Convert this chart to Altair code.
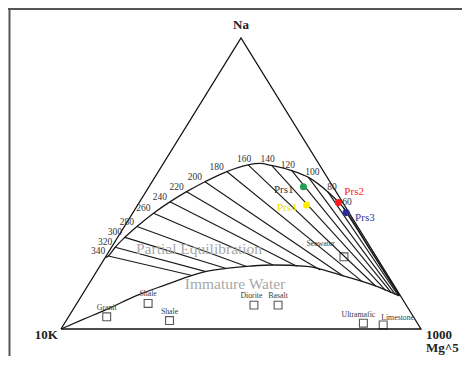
import altair as alt
import pandas as pd

# ---------------- data (ternary coordinates: Na %, Mg %; K = 100 - Na - Mg) ----------------
# triangle outline K -> Na -> Mg -> K
tri_na = [0, 100, 0, 0]
tri_mg = [0, 0, 100, 0]

# full-equilibrium curve
fe_na = [24.5, 25.1, 28.1, 31.5, 35.2, 39.8, 43.7, 47.2, 50.6, 54.1, 56.4, 56.9, 56.2, 54.4, 52.1, 47.1, 41.9, 27.1, 11.4]
fe_mg = [0.0, 0.6, 1.0, 2.0, 3.5, 5.8, 8.4, 11.3, 14.7, 19.0, 23.8, 26.8, 30.4, 36.9, 42.7, 50.6, 57.4, 72.4, 88.3]

# immature-water curve
im_na = [0, 3.3, 6.5, 11.7, 15.1, 18.0, 19.7, 20.9, 21.6, 22.0, 21.5, 18.6, 15.1, 11.4]
im_mg = [0, 4.5, 9.0, 15.6, 21.3, 26.4, 30.2, 36.0, 41.7, 47.9, 57.5, 68.2, 79.2, 88.3]

# Na/K isotherms (temperature, start on full-equilibrium curve, end on immature-water curve)
temps = [340, 320, 300, 280, 260, 240, 220, 200, 180, 160, 140, 120, 100, 80, 60]
iso_na1 = [25.1, 28.1, 31.5, 35.2, 39.8, 43.7, 47.2, 50.6, 54.1, 56.4, 56.2, 54.4, 52.1, 47.1, 41.9]
iso_mg1 = [0.6, 1.0, 2.0, 3.5, 5.8, 8.4, 11.3, 14.7, 19.0, 23.8, 30.4, 36.9, 42.7, 50.6, 57.4]
iso_na2 = [18.4, 19.7, 20.8, 21.5, 22.0, 21.6, 20.3, 18.2, 16.2, 14.7, 13.3, 12.5, 11.9, 11.5, 11.5]
iso_mg2 = [27.2, 30.4, 35.5, 40.8, 47.9, 54.7, 61.9, 69.3, 75.7, 80.1, 83.5, 85.5, 86.9, 87.9, 88.3]

# rock / reference compositions
rock_names = ["Granit", "Shale", "Shale", "Diorite", "Basalt", "Ultramafic", "Limestone", "Seawater"]
rock_na = [4.2, 8.8, 2.9, 8.2, 8.2, 2.0, 1.4, 24.8]
rock_mg = [10.6, 19.8, 28.7, 49.5, 56.2, 83.0, 88.8, 66.2]

# samples
samples = ["Prs1", "Prs2", "Prs3", "Prs4"]
smp_na = [48.9, 43.5, 40.0, 42.6]
smp_mg = [42.9, 55.3, 59.2, 46.9]
smp_colors = ["#1fa055", "#ff1a1a", "#2b2b99", "#ffee00"]
smp_text_colors = ["#333333", "#ff1a1a", "#333399", "#eedd00"]

# region labels
region_text = ["Partial Equilibration", "Immature Water"]
region_na = [27.5, 15.5]
region_mg = [24.6, 40.6]

# vertex labels
vtx_text = ["Na", "10K", "1000", "Mg^5"]
vtx_na = [100, 0, 0, 0]
vtx_mg = [0, 0, 100, 100]

# ---------------- chart ----------------
W, H = 454, 348
xs = alt.Scale(domain=[-14.72, 111.39], nice=False, zero=False)
ys = alt.Scale(domain=[-9.28, 110.31], nice=False, zero=False)
SERIF = "Liberation Serif"


def X(f="x"):
    return alt.X(f"{f}:Q", scale=xs, axis=None)


def Y(f="y"):
    return alt.Y(f"{f}:Q", scale=ys, axis=None)


calc = dict(x="datum.mg + datum.na / 2", y="datum.na")

tri_df = pd.DataFrame({"na": tri_na, "mg": tri_mg, "ord": list(range(len(tri_na)))})
fe_df = pd.DataFrame({"na": fe_na, "mg": fe_mg})
im_df = pd.DataFrame({"na": im_na, "mg": im_mg})
iso_df = pd.DataFrame({"t": temps, "na1": iso_na1, "mg1": iso_mg1, "na2": iso_na2, "mg2": iso_mg2})
rock_df = pd.DataFrame({"id": list(range(len(rock_names))), "name": rock_names, "na": rock_na, "mg": rock_mg})
smp_df = pd.DataFrame({"name": samples, "na": smp_na, "mg": smp_mg})
reg_df = pd.DataFrame({"text": region_text, "na": region_na, "mg": region_mg})
vtx_df = pd.DataFrame({"text": vtx_text, "na": vtx_na, "mg": vtx_mg})
frame_df = pd.DataFrame({"k": [0]})

layers = []

# frame (left and top edges)
layers.append(alt.Chart(frame_df).mark_rule(color="#555555", strokeWidth=2).encode(
    x=alt.value(1.5), y=alt.value(0), y2=alt.value(H)))
layers.append(alt.Chart(frame_df).mark_rule(color="#555555", strokeWidth=2).encode(
    x=alt.value(0), x2=alt.value(W), y=alt.value(1)))

# isotherms
layers.append(alt.Chart(iso_df).mark_rule(color="#1a1a1a", strokeWidth=1.15).transform_calculate(
    x1="datum.mg1 + datum.na1 / 2", y1="datum.na1",
    x2="datum.mg2 + datum.na2 / 2", y2="datum.na2",
).encode(x=X("x1"), y=Y("y1"), x2="x2:Q", y2="y2:Q"))

# curves
layers.append(alt.Chart(fe_df).mark_line(color="#1a1a1a", strokeWidth=1.3, interpolate="monotone")
              .transform_calculate(**calc).encode(x=X(), y=Y()))
layers.append(alt.Chart(im_df).mark_line(color="#1a1a1a", strokeWidth=1.3, interpolate="monotone")
              .transform_calculate(**calc).encode(x=X(), y=Y()))

# triangle
layers.append(alt.Chart(tri_df).mark_line(color="#111111", strokeWidth=1.3)
              .transform_calculate(**calc).encode(x=X(), y=Y(), order="ord:Q"))

# temperature labels
iso_lbl = alt.Chart(iso_df).transform_calculate(x="datum.mg1 + datum.na1 / 2", y="datum.na1")
tl_style = dict(font=SERIF, fontSize=9.5, color="#333333", baseline="middle")
layers.append(iso_lbl.transform_filter("datum.t >= 180").mark_text(align="right", dx=-3, dy=-5, **tl_style)
              .encode(x=X(), y=Y(), text="t:N"))
layers.append(iso_lbl.transform_filter("datum.t < 180 && datum.t > 100").mark_text(align="center", dx=-4, dy=-6, **tl_style)
              .encode(x=X(), y=Y(), text="t:N"))
layers.append(iso_lbl.transform_filter("datum.t <= 100").mark_text(align="center", dx=4, dy=-5, **tl_style)
              .encode(x=X(), y=Y(), text="t:N"))

# region labels
layers.append(alt.Chart(reg_df).mark_text(font=SERIF, fontSize=15.5, color="#a8a8a8", baseline="middle")
              .transform_calculate(**calc).encode(x=X(), y=Y(), text="text:N"))

# rock squares and labels
rock_base = alt.Chart(rock_df).transform_calculate(**calc)
layers.append(rock_base.mark_square(filled=False, size=62, color="#111111", strokeWidth=1.1)
              .encode(x=X(), y=Y()))
rl_style = dict(font=SERIF, fontSize=7.8, color="#3a3a3a", baseline="middle")
layers.append(rock_base.transform_filter("indexof(['Ultramafic','Limestone','Seawater','Diorite'], datum.name) < 0")
              .mark_text(align="center", dy=-9, **rl_style).encode(x=X(), y=Y(), text="name:N"))
layers.append(rock_base.transform_filter("datum.name == 'Diorite'")
              .mark_text(align="center", dx=-2.5, dy=-9, **rl_style).encode(x=X(), y=Y(), text="name:N"))
layers.append(rock_base.transform_filter("datum.name == 'Ultramafic'")
              .mark_text(align="center", dx=-5, dy=-8.5, **rl_style).encode(x=X(), y=Y(), text="name:N"))
layers.append(rock_base.transform_filter("datum.name == 'Limestone'")
              .mark_text(align="left", dx=-2, dy=-7, **rl_style).encode(x=X(), y=Y(), text="name:N"))
layers.append(rock_base.transform_filter("datum.name == 'Seawater'")
              .mark_text(align="right", dx=-9, dy=-12.5, **rl_style).encode(x=X(), y=Y(), text="name:N"))

# samples
smp_base = alt.Chart(smp_df).transform_calculate(**calc)
layers.append(smp_base.mark_circle(size=50, opacity=1).encode(
    x=X(), y=Y(),
    color=alt.Color("name:N", scale=alt.Scale(domain=samples, range=smp_colors), legend=None)))
sl_style = dict(font=SERIF, fontSize=11, baseline="middle")
smp_label_place = {"Prs1": ("right", -10, 3), "Prs2": ("left", 6, -10),
                   "Prs3": ("left", 9, 5), "Prs4": ("right", -10, 3)}
for name, tcolor in zip(samples, smp_text_colors):
    al, ddx, ddy = smp_label_place[name]
    layers.append(smp_base.transform_filter(f"datum.name == '{name}'")
                  .mark_text(align=al, dx=ddx, dy=ddy, color=tcolor, **sl_style)
                  .encode(x=X(), y=Y(), text="name:N"))

# vertex labels
vtx_base = alt.Chart(vtx_df).transform_calculate(**calc)
vl_style = dict(font=SERIF, fontSize=13, fontWeight="bold", color="#222222", baseline="middle")
layers.append(vtx_base.transform_filter("datum.text == 'Na'")
              .mark_text(align="center", dy=-13, **vl_style).encode(x=X(), y=Y(), text="text:N"))
layers.append(vtx_base.transform_filter("datum.text == '10K'")
              .mark_text(align="right", dx=-3, dy=6, **vl_style).encode(x=X(), y=Y(), text="text:N"))
layers.append(vtx_base.transform_filter("datum.text == '1000'")
              .mark_text(align="left", dx=5, dy=6, **vl_style).encode(x=X(), y=Y(), text="text:N"))
layers.append(vtx_base.transform_filter("datum.text == 'Mg^5'")
              .mark_text(align="left", dx=5, dy=19.5, **vl_style).encode(x=X(), y=Y(), text="text:N"))

chart = alt.layer(*layers).properties(
    width=W, height=H, padding=0, autosize="none", background="white"
).configure_view(stroke=None)

chart.save("out.html", embed_options={"renderer": "svg", "actions": False})
